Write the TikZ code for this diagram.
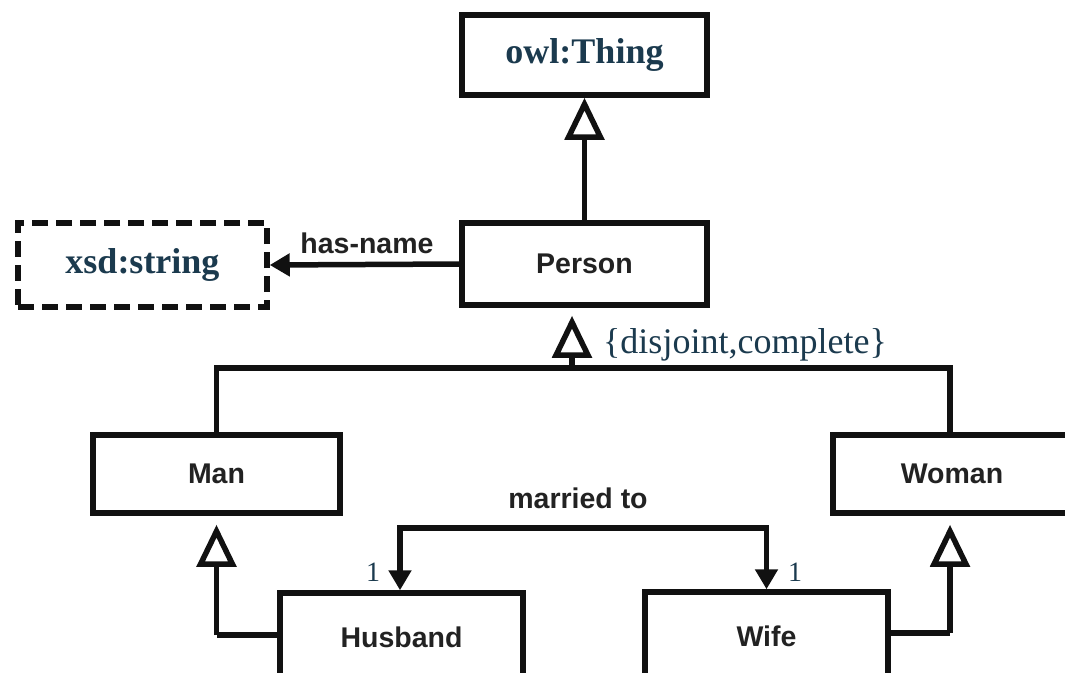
\documentclass[tikz,border=0pt]{standalone}
\usepackage{fontspec}
\setmainfont{Liberation Serif}
\setsansfont{Liberation Sans}
\usetikzlibrary{arrows.meta}
\definecolor{ink}{HTML}{111111}
\definecolor{navy}{HTML}{1B3A4E}
\definecolor{sanstext}{HTML}{222222}
\tikzset{
  cls/.style={draw=ink, line width=5.5pt, rectangle, inner sep=0pt, fill=white,
    font=\sffamily\bfseries\fontsize{28.5}{30}\selectfont, text=sanstext},
  owlcls/.style={cls, font=\rmfamily\bfseries\fontsize{36}{38}\selectfont, text=navy},
  datacls/.style={owlcls, dash pattern=on 16pt off 8pt},
  conn/.style={draw=ink, line width=5.5pt},
  gen/.style={conn, -{Triangle[open, length=42pt, width=39pt, line width=5.5pt]}},
  assoc/.style={conn, -{Triangle[length=20pt, width=22pt]}},
  biassoc/.style={conn, {Triangle[length=20pt, width=22pt]}-{Triangle[length=20pt, width=22pt]}},
  lbl/.style={font=\sffamily\bfseries\fontsize{28.5}{30}\selectfont, text=sanstext, inner sep=0pt},
  mult/.style={font=\rmfamily\fontsize{28}{30}\selectfont, text=navy, inner sep=0pt},
}
\begin{document}
\begin{tikzpicture}[x=1pt, y=-1pt]
\useasboundingbox (0,0) rectangle (1065,672);
\clip (0,0) rectangle (1065,672);
\fill[white] (0,0) rectangle (1065,672);

% class boxes (Woman, Husband and Wife run past the page edge)
\node[owlcls, minimum width=245pt, minimum height=80pt] (owl) at (584.5,55) {owl:Thing};
\node[cls, minimum width=245pt, minimum height=82pt] (person) at (584.5,264) {Person};
\node[datacls, minimum width=249pt, minimum height=84pt] (xsd) at (142.5,265) {xsd:string};
\node[cls, minimum width=247pt, minimum height=78pt] (man) at (216.5,474) {Man};
\node[cls, minimum width=300pt, minimum height=78pt, anchor=west] (woman) at (830,474) {};
\node[lbl] (womanlabel) at (952,474) {Woman};
\node[cls, minimum width=243pt, minimum height=88pt] (husband) at (401.5,637) {Husband};
\node[cls, minimum width=243pt, minimum height=88pt] (wife) at (766.5,636) {Wife};

% Person is a subclass of owl:Thing
\draw[gen] (person.north) -- (owl.south);

% has-name property
\draw[assoc] (person.west) -- (xsd.east);
\node[lbl] (hasname) at (367,243) {has-name};

% Man / Woman partition of Person
\coordinate (split) at (572,368);
\coordinate (wstem) at (950,0);
\draw[conn] (man.north) |- (split) -| (wstem |- woman.north);
\draw[gen, shorten >=8pt] (split) -- (split |- person.south);
\node[font=\rmfamily\fontsize{36}{38}\selectfont, text=navy, inner sep=0pt, anchor=west] (dc) at (603,345) {\{disjoint,complete\}};

% Husband is a Man, Wife is a Woman
\coordinate (hcorner) at (man.south |- 0,635);
\draw[conn] (husband.west |- hcorner) -- (hcorner);
\draw[gen, shorten >=9pt] (hcorner) -- (man.south);
\coordinate (wcorner) at (wstem |- 0,633);
\draw[conn] (wife.east |- wcorner) -- (wcorner);
\draw[gen, shorten >=9pt] (wcorner) -- (wcorner |- woman.south);

% married to association
\coordinate (mtop) at (0,528);
\draw[biassoc] ([xshift=-1.5pt]husband.north) -- ([xshift=-1.5pt]husband.north |- mtop)
  -- (wife.north |- mtop) -- (wife.north);
\node[lbl] (married) at (578,498) {married to};
\node[mult] (m1) at (373,572) {1};
\node[mult] (m2) at (795,572) {1};
\end{tikzpicture}
\end{document}
